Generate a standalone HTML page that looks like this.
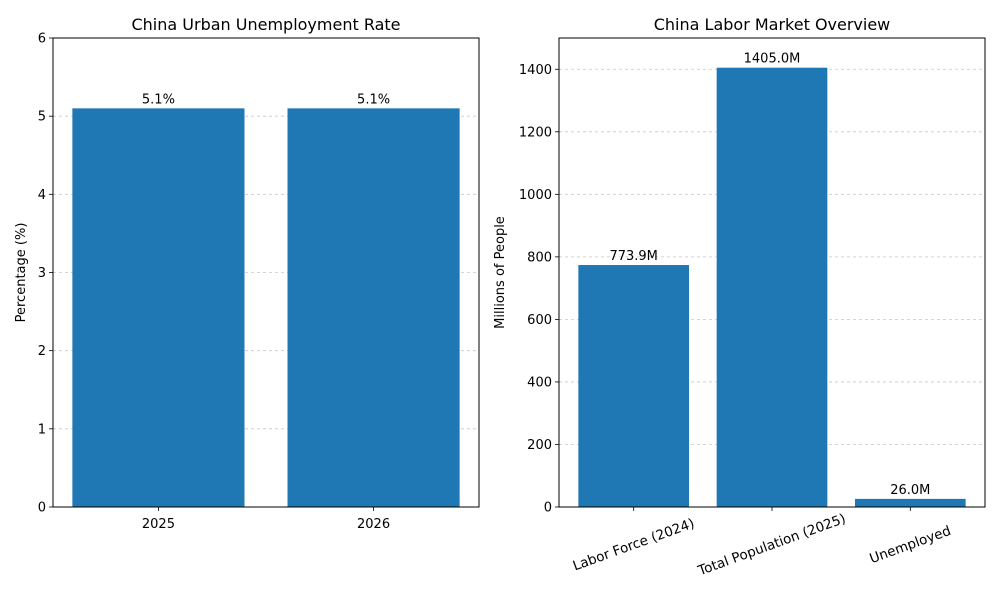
<!DOCTYPE html>
<html><head><meta charset="utf-8"><style>
body{margin:0;background:#fff;}
svg text{font-family:"DejaVu Sans","Liberation Sans",sans-serif;fill:#000;}
</style></head><body>
<svg id="chart" width="1000" height="600" xmlns="http://www.w3.org/2000/svg">
<rect width="1000" height="600" fill="#fff"/>
</svg>
<script>
const leftCategories = ["2025","2026"];
const leftValues = [5.1, 5.1];
const leftLabels = ["5.1%","5.1%"];
const leftTicks = [0,1,2,3,4,5,6];
const rightCategories = ["Labor Force (2024)","Total Population (2025)","Unemployed"];
const rightValues = [773.9, 1405.0, 26.0];
const rightLabels = ["773.9M","1405.0M","26.0M"];
const rightTicks = [0,200,400,600,800,1000,1200,1400];

const svg = document.getElementById('chart');
const NS = 'http://www.w3.org/2000/svg';
function mk(tag, attrs, parent){const e=document.createElementNS(NS,tag);for(const k in attrs)e.setAttribute(k,attrs[k]);(parent||svg).appendChild(e);return e;}

function panel(opt){
  const {x0,x1,y0,y1,ymax,cats,vals,labels,ticks,title,ylabel,rot,prefix,ylabX} = opt;
  const n = cats.length;
  const lo = -0.4 - 0.05*(n-1+0.8), hi = n-1+0.4 + 0.05*(n-1+0.8);
  const xs = v => x0 + (v-lo)/(hi-lo)*(x1-x0);
  const ys = v => y1 - v/ymax*(y1-y0);
  const g = mk('g',{});
  
  
  ticks.forEach(t=>{
    const y = ys(t);
    const gl = mk('line',{x1:x0,x2:x1,y1:y,y2:y,stroke:'#b0b0b0','stroke-width':0.8,'stroke-dasharray':'3,3',opacity:0.7},g);
    
    
  });
  cats.forEach((c,i)=>{
    const bx = xs(i-0.4), bw = xs(i+0.4)-bx, by = ys(vals[i]);
    const r = mk('rect',{x:bx,y:by,width:bw,height:y1-by,fill:'#1f77b4'},g);
    
    
    const vt = mk('text',{x:xs(i),y:by-5,'text-anchor':'middle','font-size':13},g);
    vt.textContent = labels[i];
    
    
    mk('line',{x1:xs(i),x2:xs(i),y1:y1,y2:y1+4,stroke:'#000','stroke-width':0.8},g);
    let ct;
    if(rot){
      ct = mk('text',{x:xs(i),y:y1+38,'text-anchor':'middle','dominant-baseline':'central','font-size':13.5,transform:`rotate(-20 ${xs(i)} ${y1+38})`},g);
    } else {
      ct = mk('text',{x:xs(i),y:y1+21,'text-anchor':'middle','font-size':13},g);
    }
    ct.textContent = c;
    
    
  });
  ticks.forEach(t=>{
    const y = ys(t);
    mk('line',{x1:x0-4,x2:x0,y1:y,y2:y,stroke:'#000','stroke-width':0.8},g);
    const tt = mk('text',{x:x0-7,y:y+4.5,'text-anchor':'end','font-size':13},g);
    tt.textContent = t;
    
    
  });
  const fr = mk('rect',{x:x0,y:y0,width:x1-x0,height:y1-y0,fill:'none',stroke:'#000','stroke-width':1},g);
  
  
  const ti = mk('text',{x:(x0+x1)/2,y:y0-8,'text-anchor':'middle','font-size':16},g);
  ti.textContent = title;
  
  
  const yl = mk('text',{x:ylabX,y:(y0+y1)/2,'text-anchor':'middle','font-size':13,transform:`rotate(-90 ${ylabX} ${(y0+y1)/2})`},g);
  yl.textContent = ylabel;
  
  
}
panel({x0:53,x1:479,y0:38,y1:507,ymax:6,cats:leftCategories,vals:leftValues,labels:leftLabels,ticks:leftTicks,title:'China Urban Unemployment Rate',ylabel:'Percentage (%)',rot:false,prefix:'left',ylabX:25});
panel({x0:559,x1:985,y0:38,y1:507,ymax:1500,cats:rightCategories,vals:rightValues,labels:rightLabels,ticks:rightTicks,title:'China Labor Market Overview',ylabel:'Millions of People',rot:true,prefix:'right',ylabX:504});
</script>
</body></html>
